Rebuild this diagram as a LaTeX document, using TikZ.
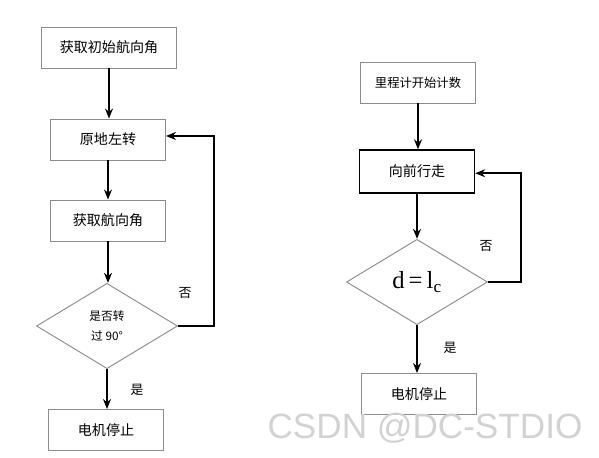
\documentclass[tikz,border=0pt]{standalone}
\usepackage{fontspec}
\setmainfont{Noto Sans CJK SC}
\newfontfamily\wmfont{Liberation Sans}
\newfontfamily\eqfont{Liberation Serif}
\usetikzlibrary{arrows.meta,shapes.geometric}
\definecolor{boxgray}{HTML}{8C8C8C}

\begin{document}
\begin{tikzpicture}[x=0.03cm, y=-0.03cm,
    stepbox/.style={draw=boxgray, line width=0.8pt, align=center, font=\fontsize{12}{14}\selectfont, minimum width=3.45cm, minimum height=1.23cm},
    decide/.style={draw=boxgray, line width=0.8pt, diamond, align=center, inner sep=0pt, minimum width=4.23cm, minimum height=2.56cm},
    lbl/.style={font=\fontsize{11}{13}\selectfont},
    wm/.style={font=\wmfont\fontsize{30}{32}\selectfont, text=gray!35},
    arr/.style={-{Stealth[length=3mm, width=2.4mm]}, line width=1.3pt}]
  \useasboundingbox (0,0) rectangle (599,458);
  % left flow
  \node[stepbox, minimum width=4.05cm] (init) at (109,47.5) {获取初始航向角};
  \node[stepbox] (turn)  at (108,139.5) {原地左转};
  \node[stepbox] (head)  at (108,220.5) {获取航向角};
  \node[decide, font=\fontsize{10}{17}\selectfont] (chk) at (107,326) {是否转\\过 90°};
  \node[stepbox] (stopl) at (106,430) {电机停止};
  \node[lbl] (nol)  at (185,293) {否};
  \node[lbl] (yesl) at (137,390) {是};
  \draw[arr] (init.south) -- (init.south |- turn.north);
  \draw[arr] (turn) -- (head);
  \draw[arr] (head.south) -- (head.south |- chk.north);
  \draw[arr] (chk.south) -- (chk.south |- stopl.north);
  \draw[arr] (chk.east) -- ++(36,0) |- ([yshift=3]turn.east);
  % right flow
  \node[stepbox, font=\fontsize{10.5}{12}\selectfont] (odo) at (418,82.5) {里程计开始计数};
  \node[stepbox, draw=black, line width=1.2pt, minimum height=1.29cm] (fwd) at (417,171.5) {向前行走};
  \node[decide, font=\eqfont\fontsize{21}{23}\selectfont] (cmp) at (417,282) {d{\,}={\,}l\textsubscript{c}};
  \node[stepbox] (stopr) at (419,394) {电机停止};
  \node[lbl] (nor)  at (486,246) {否};
  \node[lbl] (yesr) at (450,348) {是};
  \draw[arr] (odo.south) -- (odo.south |- fwd.north);
  \draw[arr] (fwd.south) -- (fwd.south |- cmp.north);
  \draw[arr] (cmp.south) -- (cmp.south |- stopr.north);
  \draw[arr] (cmp.east) -- ++(33,0) |- ([yshift=-1.5]fwd.east);
  % watermark
  \node[wm] (mark) at (425,428) {CSDN @DC-STDIO};
\end{tikzpicture}
\end{document}
